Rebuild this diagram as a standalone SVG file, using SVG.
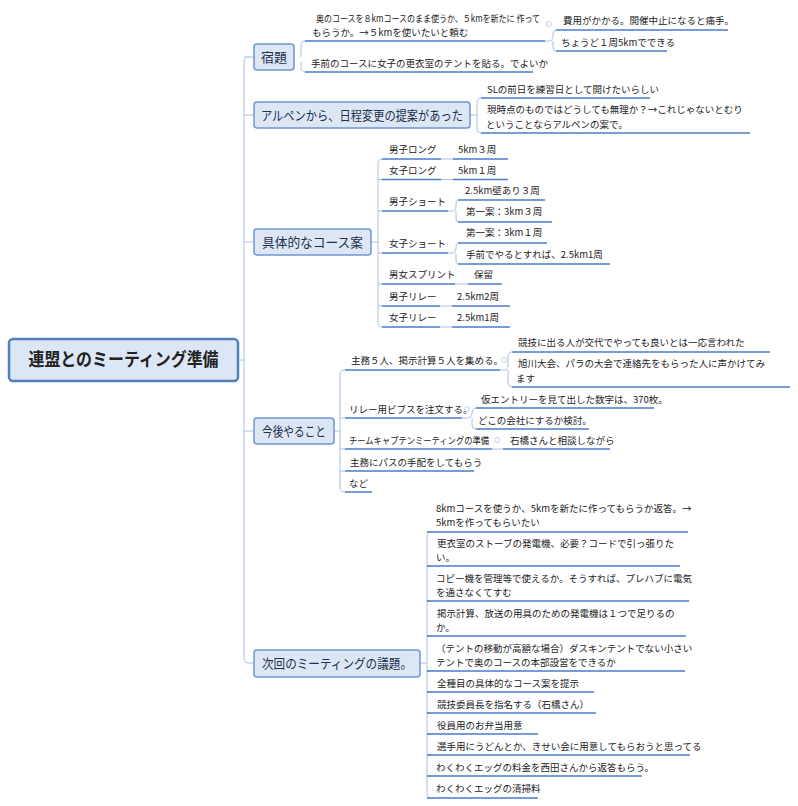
<svg xmlns="http://www.w3.org/2000/svg" width="798" height="806" viewBox="0 0 798 806">
<style>
text{font-family:"Noto Sans CJK JP","Noto Sans",sans-serif;fill:#222}
.s{font-size:9.5px}
.m{font-size:13px;fill:#1f2f4f}
.box{fill:#dce6f4;stroke:#6f97d3;stroke-width:1.5}
.u{stroke:#4a7cc9;stroke-width:1.5;fill:none}
.c{stroke:#a9c1e6;stroke-width:1;fill:none}
.d{fill:#fff;stroke:#b5c7e3;stroke-width:0.8}
</style>
<rect width="798" height="806" fill="#fff"/>
<g id="connectors">
<path class="c" d="M238 360H244M249 57Q244 57 244 62V658Q244 663 249 663H254M244 115H254M244 242H254M244 431H254M244 57H254"/>
<path class="c" d="M300 57Q301 57 301 52V46Q301 41 305 41M301 62V67Q301 72 305 72"/>
<path class="c" d="M545 41H549Q553 41 553 36V34Q553 30 556 30M553 41V47Q553 51 556 51"/>
<path class="c" d="M470 115H477V103Q477 98 481 98M477 115V128Q477 133 481 133"/>
<path class="c" d="M371 242H378V164Q378 159 382 159M378 242V322Q378 327 382 327M378 179.5H382M378 211H382M378 253H382M378 284H382M378 306H382"/>
<path class="c" d="M441 159H453M441 179.5H453M448 211H452Q456 211 456 206V204Q456 200 458 200M456 211V218Q456 222 458 222M448 253H452Q456 253 456 248V247Q456 243 458 243M456 253V260Q456 264 458 264M455 284H468M440 306H452M440 327H452"/>
<path class="c" d="M334 431H340V375Q340 370 345 370M340 431V487Q340 492 345 492M340 418H345M340 449H345M340 471H345"/>
<path class="c" d="M500 370H504Q508 370 508 365V357Q508 352 512 352M508 370V382Q508 387 512 387M462 418H467Q472 418 472 413Q472 408 476 408M472 418V425Q472 429 476 429M492 449H503"/>
<path class="c" d="M420 663H427V537Q427 532 431 532M427 663V793Q427 798 431 798M427 566H431M427 601H431M427 636H431M427 671H431M427 692H431M427 713H431M427 734H431M427 755H431M427 776H431"/>
</g>
<g id="root"><rect x="9" y="339" width="229" height="42" rx="4" fill="#dce6f4" stroke="#4f81bd" stroke-width="2.5"/><text x="123.5" y="366" text-anchor="middle" font-size="18" font-weight="bold" fill="#1f2f4f" textLength="190" lengthAdjust="spacingAndGlyphs">連盟とのミーティング準備</text></g>
<g id="t1"><rect class="box" x="254" y="44" width="40" height="26" rx="3"/><text class="m" x="261" y="62" textLength="26" lengthAdjust="spacingAndGlyphs">宿題</text>
<text class="s" x="316" y="22" textLength="224" lengthAdjust="spacingAndGlyphs">奥のコースを８kmコースのまま使うか、５kmを新たに 作って</text><text class="s" x="312" y="36">もらうか。→５kmを使いたいと頼む</text><path class="u" d="M305 41H545"/>
<circle class="d" cx="549" cy="24" r="2.5"/>
<text class="s" x="563" y="24">費用がかかる。開催中止になると痛手。</text><path class="u" d="M556 30H728"/>
<text class="s" x="561" y="46">ちょうど１周5kmでできる</text><path class="u" d="M556 51H667"/>
<text class="s" x="311" y="67">手前のコースに女子の更衣室のテントを貼る。でよいか</text><path class="u" d="M305 72H533"/></g>
<g id="t2"><rect class="box" x="254" y="102" width="216" height="26" rx="3"/><text class="m" x="261" y="120" textLength="202" lengthAdjust="spacingAndGlyphs">アルペンから、日程変更の提案があった</text>
<text class="s" x="487" y="93">SLの前日を練習日として開けたいらしい</text><path class="u" d="M481 98H650"/>
<text class="s" x="487" y="113">現時点のものではどうしても無理か？→これじゃないとむり</text><text class="s" x="486" y="128">ということならアルペンの案で。</text><path class="u" d="M481 133H750"/></g>
<g id="t3"><rect class="box" x="254" y="229" width="117" height="26" rx="3"/><text class="m" x="262" y="247" textLength="101" lengthAdjust="spacingAndGlyphs">具体的なコース案</text>
<text class="s" x="389" y="153">男子ロング</text><path class="u" d="M382 159H441"/><text class="s" x="458" y="153">5km３周</text><path class="u" d="M453 159H508"/>
<text class="s" x="389" y="174">女子ロング</text><path class="u" d="M382 179.5H441"/><text class="s" x="458" y="174">5km１周</text><path class="u" d="M453 179.5H508"/>
<text class="s" x="389" y="205">男子ショート</text><path class="u" d="M382 211H448"/>
<text class="s" x="465" y="194">2.5km壁あり３周</text><path class="u" d="M458 200H545"/>
<text class="s" x="466" y="215">第一案：3km３周</text><path class="u" d="M458 222H552"/>
<text class="s" x="389" y="247">女子ショート</text><path class="u" d="M382 253H448"/>
<text class="s" x="466" y="236">第一案：3km１周</text><path class="u" d="M458 243H547"/>
<text class="s" x="466" y="258">手前でやるとすれば、2.5km1周</text><path class="u" d="M458 264H610"/>
<text class="s" x="389" y="278">男女スプリント</text><path class="u" d="M382 284H455"/><text class="s" x="474" y="278">保留</text><path class="u" d="M468 284H502"/>
<text class="s" x="389" y="300">男子リレー</text><path class="u" d="M382 306H440"/><text class="s" x="457" y="300">2.5km2周</text><path class="u" d="M452 306H510"/>
<text class="s" x="389" y="321">女子リレー</text><path class="u" d="M382 327H440"/><text class="s" x="457" y="321">2.5km1周</text><path class="u" d="M452 327H510"/></g>
<g id="t4"><rect class="box" x="254" y="418" width="80" height="26" rx="3"/><text class="m" x="262" y="436" textLength="64" lengthAdjust="spacingAndGlyphs">今後やること</text>
<text class="s" x="351" y="364">主務５人、掲示計算５人を集める。</text><path class="u" d="M345 370H500"/><circle class="d" cx="504" cy="360" r="2.5"/>
<text class="s" x="518" y="346">競技に出る人が交代でやっても良いとは一応言われた</text><path class="u" d="M512 352H770"/>
<text class="s" x="518" y="367">旭川大会、パラの大会で連絡先をもらった人に声かけてみ</text><text class="s" x="516" y="382">ます</text><path class="u" d="M512 387H790"/>
<text class="s" x="349" y="413">リレー用ビブスを注文する。</text><path class="u" d="M345 418H462"/>
<circle class="d" cx="467" cy="409" r="2.5"/>
<text class="s" x="481" y="403">仮エントリーを見て出した数字は、370枚。</text><path class="u" d="M476 408H654"/>
<text class="s" x="478" y="424">どこの会社にするか検討。</text><path class="u" d="M476 429H589"/>
<text class="s" x="349" y="444" textLength="140" lengthAdjust="spacingAndGlyphs">チームキャプテンミーティングの準備</text><path class="u" d="M345 449H492"/><circle class="d" cx="497" cy="440" r="2.5"/>
<text class="s" x="510" y="444">石橋さんと相談しながら</text><path class="u" d="M503 449H610"/>
<text class="s" x="350" y="466">主務にパスの手配をしてもらう</text><path class="u" d="M345 471H474"/>
<text class="s" x="349" y="487">など</text><path class="u" d="M345 492H372"/></g>
<g id="t5"><rect class="box" x="254" y="650" width="166" height="27" rx="3"/><text class="m" x="262" y="668" textLength="150" lengthAdjust="spacingAndGlyphs">次回のミーティングの議題。</text>
<text class="s" x="436" y="512">8kmコースを使うか、5kmを新たに作ってもらうか返答。→</text><text class="s" x="436" y="526">5kmを作ってもらいたい</text><path class="u" d="M427 532H688"/>
<text class="s" x="437" y="547">更衣室のストーブの発電機、必要？コードで引っ張りた</text><text class="s" x="436" y="561">い。</text><path class="u" d="M427 566H680"/>
<text class="s" x="436" y="582">コピー機を管理等で使えるか。そうすれば、プレハブに電気</text><text class="s" x="436" y="596">を通さなくてすむ</text><path class="u" d="M427 601H689"/>
<text class="s" x="437" y="617">掲示計算、放送の用具のための発電機は１つで足りるの</text><text class="s" x="436" y="631">か。</text><path class="u" d="M427 636H686"/>
<text class="s" x="436" y="652">（テントの移動が高額な場合）ダスキンテントでない小さい</text><text class="s" x="436" y="666">テントで奥のコースの本部設営をできるか</text><path class="u" d="M427 671H685"/>
<text class="s" x="437" y="687">全種目の具体的なコース案を提示</text><path class="u" d="M427 692H594"/>
<text class="s" x="437" y="708">競技委員長を指名する（石橋さん）</text><path class="u" d="M427 713H596"/>
<text class="s" x="437" y="729">役員用のお弁当用意</text><path class="u" d="M427 734H538"/>
<text class="s" x="437" y="750">選手用にうどんとか、きせい会に用意してもらおうと思ってる</text><path class="u" d="M427 755H690"/>
<text class="s" x="436" y="771">わくわくエッグの料金を西田さんから返答もらう。</text><path class="u" d="M427 776H642"/>
<text class="s" x="436" y="792">わくわくエッグの清掃料</text><path class="u" d="M427 798H538"/></g>
</svg>
